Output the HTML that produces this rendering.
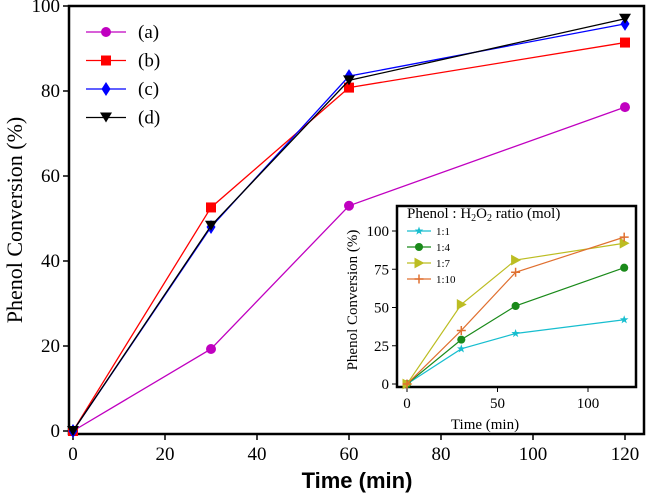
<!DOCTYPE html>
<html><head><meta charset="utf-8"><style>
body{margin:0;background:#fff}
svg{display:block;font-family:"Liberation Serif",serif}
</style></head><body>
<svg id="chart" width="646" height="494"></svg>
<script>
const times=[0,30,60,120];
const seriesA=[0,19.3,53,76.2];
const seriesB=[0,52.6,80.8,91.4];
const seriesC=[0,48,83.5,95.8];
const seriesD=[0,48.3,82.5,97];
const xTicks=[0,20,40,60,80,100,120];
const yTicks=[0,20,40,60,80,100];
const inset11=[0,23,33,42];
const inset14=[0,29,51,76];
const inset17=[0,52,81,92];
const inset110=[0,35,73,96];
const insetXTicks=[0,50,100];
const insetYTicks=[0,25,50,75,100];

const NS="http://www.w3.org/2000/svg";
const svg=document.getElementById('chart');
function el(t,a,p){const e=document.createElementNS(NS,t);for(const k in a)e.setAttribute(k,a[k]);(p||svg).appendChild(e);return e;}
const X=v=>73+v*4.6, Y=v=>431-v*4.25;
const iX=v=>407+v*1.81, iY=v=>384-v*1.53;

function marker(g,type,x,y,c,s){
  let m;
  if(type==='circle')m=el('circle',{cx:x,cy:y,r:5*s,fill:c},g);
  else if(type==='square')m=el('rect',{x:x-5*s,y:y-5*s,width:10*s,height:10*s,fill:c},g);
  else if(type==='diamond')m=el('polygon',{points:`${x},${y-7*s} ${x+4.5*s},${y} ${x},${y+7*s} ${x-4.5*s},${y}`,fill:c},g);
  else if(type==='tridown')m=el('polygon',{points:`${x-6*s},${y-5*s} ${x+6*s},${y-5*s} ${x},${y+5*s}`,fill:c},g);
  else if(type==='triright')m=el('polygon',{points:`${x-5*s},${y-6*s} ${x+6*s},${y} ${x-5*s},${y+6*s}`,fill:c},g);
  else if(type==='star'){let p=[];for(let i=0;i<10;i++){const r=i%2?2*s:5*s,a=-Math.PI/2+i*Math.PI/5;p.push((x+r*Math.cos(a))+','+(y+r*Math.sin(a)));}m=el('polygon',{points:p.join(' '),fill:c},g);}
  else if(type==='xfill'){m=el('circle',{cx:x,cy:y,r:4.5*s,fill:c},g);}
  else if(type==='plus'){m=el('path',{d:`M${x-5*s},${y}H${x+5*s}M${x},${y-5*s}V${y+5*s}`,stroke:c,'stroke-width':1.5,fill:'none'},g);}
  
  
}

// main axes
el('rect',{x:69,y:6,width:575,height:428,fill:'none',stroke:'#000','stroke-width':2.5});
xTicks.forEach(t=>{el('line',{x1:X(t),x2:X(t),y1:434,y2:440,stroke:'#000','stroke-width':1.5});const tx=el('text',{x:X(t),y:460,'text-anchor':'middle','font-size':19});tx.textContent=t;});
yTicks.forEach(t=>{el('line',{x1:63,x2:69,y1:Y(t),y2:Y(t),stroke:'#000','stroke-width':1.5});const tx=el('text',{x:60,y:Y(t)+6,'text-anchor':'end','font-size':19});tx.textContent=t;});
const xl=el('text',{x:357,y:488,'text-anchor':'middle','font-size':22,'font-family':'Liberation Sans, sans-serif','font-weight':'bold'});xl.textContent='Time (min)';

const yl=el('text',{x:0,y:0,transform:'translate(22,220) rotate(-90)','text-anchor':'middle','font-size':22});yl.textContent='Phenol Conversion (%)';


const mainS=[['(a)',seriesA,'#c000c0','circle'],['(b)',seriesB,'#ff0000','square'],['(c)',seriesC,'#0000ff','diamond'],['(d)',seriesD,'#000000','tridown']];
mainS.forEach((s,i)=>{
  const g=el('g',{});
  
  
  el('polyline',{points:times.map((t,j)=>X(t)+','+Y(s[1][j])).join(' '),fill:'none',stroke:s[2],'stroke-width':1.3},g);
  times.forEach((t,j)=>marker(g,s[3],X(t),Y(s[1][j]),s[2],1));
  const ly=32+i*28.5;
  const lg=el('g',{});
  
  
  el('line',{x1:86,x2:126,y1:ly,y2:ly,stroke:s[2],'stroke-width':1.3},lg);
  marker(lg,s[3],106,ly,s[2],1);
  const t=el('text',{x:138,y:ly+6,'font-size':19},lg);t.textContent=s[0];
});

// inset
const ig=el('g',{});


el('rect',{x:397,y:206,width:239,height:181,fill:'#fff',stroke:'#000','stroke-width':2.5},ig);
insetXTicks.forEach(t=>{el('line',{x1:iX(t),x2:iX(t),y1:387,y2:392,stroke:'#000'},ig);const tx=el('text',{x:iX(t),y:408,'text-anchor':'middle','font-size':15},ig);tx.textContent=t;});
insetYTicks.forEach(t=>{el('line',{x1:392,x2:397,y1:iY(t),y2:iY(t),stroke:'#000'},ig);const tx=el('text',{x:389,y:iY(t)+5,'text-anchor':'end','font-size':15},ig);tx.textContent=t;});
const ixl=el('text',{x:485,y:429,'text-anchor':'middle','font-size':15},ig);ixl.textContent='Time (min)';

const iyl=el('text',{x:0,y:0,transform:'translate(357,300) rotate(-90)','text-anchor':'middle','font-size':15},ig);iyl.textContent='Phenol Conversion (%)';

const it=el('text',{x:407,y:218,'font-size':15},ig);
it.innerHTML='Phenol : H<tspan font-size="10" dy="3">2</tspan><tspan dy="-3">O</tspan><tspan font-size="10" dy="3">2</tspan><tspan dy="-3"> ratio (mol)</tspan>';

const insS=[['1:1',inset11,'#17becf','star'],['1:4',inset14,'#1a8a1a','xfill'],['1:7',inset17,'#bcbd22','triright'],['1:10',inset110,'#e07030','plus']];
insS.forEach((s,i)=>{
  const g=el('g',{},ig);
  
  
  el('polyline',{points:times.map((t,j)=>iX(t)+','+iY(s[1][j])).join(' '),fill:'none',stroke:s[2],'stroke-width':1.2},g);
  times.forEach((t,j)=>marker(g,s[3],iX(t),iY(s[1][j]),s[2],0.9));
  const ly=231+i*16;
  const lg=el('g',{},ig);
  
  
  el('line',{x1:407,x2:431,y1:ly,y2:ly,stroke:s[2],'stroke-width':1.2},lg);
  marker(lg,s[3],419,ly,s[2],0.9);
  const t=el('text',{x:436,y:ly+4,'font-size':11},lg);t.textContent=s[0];
});
</script>
</body></html>
